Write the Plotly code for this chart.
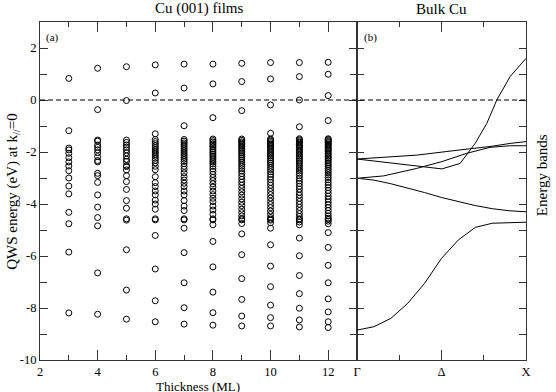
import plotly.graph_objects as go

# QWS energies (eV) at k//=0 for each film thickness (ML)
thickness = [3, 4, 5, 6, 7, 8, 9, 10, 11, 12]

qws_3 = [0.83, -1.18, -1.85, -1.92, -2.05, -2.22, -2.38, -2.54, -2.72, -3.00, -3.31, -3.61,
         -4.32, -4.76, -5.85, -8.19]
qws_4 = [1.22, -0.37, -1.54, -1.58, -1.73, -1.82, -1.92, -2.03, -2.18, -2.33, -2.38, -2.82,
         -2.91, -3.17, -3.65, -4.12, -4.52, -4.84, -6.65, -8.24]
qws_5 = [1.28, -0.02, -1.54, -1.63, -1.73, -1.82, -1.92, -2.03, -2.15, -2.28, -2.37, -2.52,
         -2.56, -2.69, -2.91, -3.14, -3.44, -3.87, -4.16, -4.57, -4.62, -5.76, -7.31, -8.43]
qws_6 = [1.35, 0.27, -1.30, -1.52, -1.60, -1.68, -1.76, -1.84, -1.92, -2.00, -2.08, -2.16,
         -2.24, -2.32, -2.42, -2.55, -2.68, -2.95, -3.18, -3.33, -3.50, -3.65, -3.85, -4.00,
         -4.20, -4.57, -4.61, -5.21, -6.50, -7.72, -8.53]
qws_7 = [1.38, 0.46, -0.99, -1.52, -1.58, -1.65, -1.72, -1.80, -1.88, -1.96, -2.04, -2.12,
         -2.20, -2.28, -2.36, -2.45, -2.55, -2.66, -2.80, -2.95, -3.08, -3.20, -3.33, -3.50,
         -3.65, -3.87, -4.08, -4.25, -4.57, -4.61, -4.93, -5.87, -7.03, -7.99, -8.62]
qws_8 = [1.38, 0.62, -0.68, -1.50, -1.56, -1.62, -1.68, -1.74, -1.80, -1.87, -1.94, -2.01,
         -2.08, -2.15, -2.22, -2.30, -2.38, -2.46, -2.55, -2.65, -2.75, -2.86, -2.98, -3.10,
         -3.22, -3.35, -3.50, -3.64, -3.78, -3.91, -4.08, -4.23, -4.40, -4.57, -4.61, -4.80,
         -5.44, -6.42, -7.39, -8.18, -8.66]
qws_9 = [1.41, 0.71, -0.41, -1.50, -1.55, -1.61, -1.66, -1.72, -1.78, -1.84, -1.90, -1.97,
         -2.03, -2.10, -2.17, -2.24, -2.31, -2.39, -2.47, -2.55, -2.64, -2.73, -2.83, -2.94,
         -3.05, -3.16, -3.28, -3.40, -3.53, -3.66, -3.80, -3.93, -4.06, -4.20, -4.33, -4.46,
         -4.57, -4.61, -4.75, -5.15, -5.95, -6.87, -7.67, -8.31, -8.69]
qws_10 = [1.44, 0.81, -0.19, -1.28, -1.50, -1.54, -1.59, -1.64, -1.69, -1.74, -1.79, -1.85,
          -1.91, -1.97, -2.03, -2.09, -2.15, -2.22, -2.29, -2.36, -2.43, -2.51, -2.59, -2.67,
          -2.76, -2.86, -2.96, -3.06, -3.17, -3.28, -3.40, -3.52, -3.64, -3.77, -3.90, -4.02,
          -4.14, -4.27, -4.40, -4.52, -4.58, -4.62, -4.72, -4.93, -5.57, -6.39, -7.18, -7.89,
          -8.37, -8.69]
qws_11 = [1.44, 0.90, 0.00, -1.03, -1.49, -1.53, -1.57, -1.62, -1.66, -1.71, -1.76, -1.81,
          -1.86, -1.92, -1.97, -2.03, -2.09, -2.15, -2.21, -2.28, -2.35, -2.42, -2.49, -2.57,
          -2.65, -2.73, -2.82, -2.91, -3.01, -3.11, -3.21, -3.32, -3.43, -3.55, -3.66, -3.78,
          -3.90, -4.01, -4.13, -4.25, -4.37, -4.48, -4.57, -4.61, -4.69, -4.80, -5.31, -5.99,
          -6.75, -7.45, -8.01, -8.46, -8.73]
qws_12 = [1.45, 0.99, 0.17, -0.79, -1.49, -1.52, -1.56, -1.60, -1.64, -1.69, -1.73, -1.78,
          -1.83, -1.88, -1.93, -1.98, -2.04, -2.10, -2.16, -2.22, -2.28, -2.35, -2.42, -2.49,
          -2.56, -2.64, -2.72, -2.80, -2.89, -2.98, -3.07, -3.17, -3.27, -3.37, -3.48, -3.59,
          -3.70, -3.81, -3.92, -4.03, -4.14, -4.25, -4.36, -4.46, -4.55, -4.60, -4.66, -4.76,
          -5.10, -5.67, -6.36, -7.03, -7.65, -8.15, -8.53, -8.75]

qws = [qws_3, qws_4, qws_5, qws_6, qws_7, qws_8, qws_9, qws_10, qws_11, qws_12]

# Bulk Cu bands along Gamma-X (k from 0 at Gamma to 1 at X)
band1_k = [0, 0.1, 0.2, 0.3, 0.4, 0.5, 0.6, 0.7, 0.8, 0.9, 1.0]
band1_e = [-8.85, -8.72, -8.40, -7.82, -7.05, -6.09, -5.38, -4.90, -4.74, -4.71, -4.70]
band2_k = [0, 0.1, 0.2, 0.3, 0.4, 0.5, 0.6, 0.7, 0.8, 0.9, 1.0]
band2_e = [-3.01, -3.08, -3.22, -3.38, -3.56, -3.75, -3.90, -4.06, -4.18, -4.26, -4.30]
band3_k = [0, 0.157, 0.354, 0.502, 0.65, 0.787, 0.906, 1.0]
band3_e = [-3.01, -2.92, -2.63, -2.37, -2.05, -1.82, -1.76, -1.76]
band4_k = [0, 0.354, 0.61, 0.787, 0.906, 1.0]
band4_e = [-2.27, -2.12, -1.92, -1.79, -1.67, -1.60]
band5_k = [0, 0.256, 0.502, 0.61, 0.699, 0.768, 0.827, 0.906, 1.0]
band5_e = [-2.27, -2.47, -2.65, -2.44, -1.67, -0.90, 0.0, 0.9, 1.6]

bands = [(band1_k, band1_e), (band2_k, band2_e), (band3_k, band3_e),
         (band4_k, band4_e), (band5_k, band5_e)]

serif = "Liberation Serif"
line_col = "#333333"

fig = go.Figure()

film_x = []
film_y = []
for n, vals in zip(thickness, qws):
    film_x += [n] * len(vals)
    film_y += vals

fig.add_trace(go.Scatter(
    x=film_x, y=film_y, mode="markers", xaxis="x", yaxis="y",
    marker=dict(symbol="circle-open", size=6, color="black", line=dict(width=1)),
    showlegend=False))

for k, e in bands:
    fig.add_trace(go.Scatter(
        x=k, y=e, mode="lines", xaxis="x2", yaxis="y2",
        line=dict(color="black", width=1), showlegend=False))

# E = 0 reference across both panels
fig.add_shape(type="line", xref="paper", yref="y", x0=0, x1=1, y0=0, y1=0,
              line=dict(color="black", width=1, dash="5px,3px"))

split = 0.6523
ytick_vals = [-10, -8, -6, -4, -2, 0, 2]
ytick_text = [str(v) for v in ytick_vals]

axis_common = dict(showline=True, linecolor=line_col, linewidth=1, ticks="inside",
                   tickcolor=line_col, showgrid=False, zeroline=False,
                   tickfont=dict(family=serif, size=12.5, color="black"))

fig.update_layout(
    width=556, height=392,
    margin=dict(l=40, r=30, t=22, b=32),
    paper_bgcolor="white", plot_bgcolor="white",
    font=dict(family=serif, color="black"),
    xaxis=dict(domain=[0, split], range=[2, 13], tickmode="array",
               tickvals=[2, 4, 6, 8, 10, 12], ticklen=10, mirror="allticks",
               minor=dict(dtick=1, ticklen=5, tickcolor=line_col, ticks="inside"),
               **axis_common),
    yaxis=dict(range=[-10, 3], tickmode="array", tickvals=ytick_vals, ticktext=ytick_text,
               ticklen=8, mirror="allticks",
               minor=dict(dtick=1, ticklen=7, tickcolor=line_col, ticks="inside"),
               **axis_common),
    xaxis2=dict(domain=[split, 1], range=[0, 1], anchor="y2", tickmode="array",
                tickvals=[0, 0.5, 1], ticktext=["Γ", "Δ", "X"], ticklen=10,
                mirror="allticks",
                minor=dict(dtick=0.25, ticklen=5, tickcolor=line_col, ticks="inside"),
                **axis_common),
    yaxis2=dict(range=[-10, 3], anchor="x2", dtick=1, ticklen=7, mirror="allticks",
                showticklabels=False, **axis_common),
)

fig.add_annotation(text="Cu (001) films", xref="paper", yref="paper", x=split / 2, y=1,
                   xanchor="center", yanchor="bottom", yshift=3, showarrow=False,
                   font=dict(family=serif, size=15))
fig.add_annotation(text="Bulk Cu", xref="paper", yref="paper", x=(split + 1) / 2, y=1,
                   xanchor="center", yanchor="bottom", yshift=3, showarrow=False,
                   font=dict(family=serif, size=15))
fig.add_annotation(text="(a)", xref="paper", yref="paper", x=0.008, y=0.978,
                   xanchor="left", yanchor="top", showarrow=False,
                   font=dict(family=serif, size=11))
fig.add_annotation(text="(b)", xref="paper", yref="paper", x=split + 0.01, y=0.978,
                   xanchor="left", yanchor="top", showarrow=False,
                   font=dict(family=serif, size=11))
fig.add_annotation(text="QWS energy (eV) at k<sub>//</sub>=0", xref="paper", yref="paper",
                   x=-0.056, y=0.5, xanchor="center", yanchor="middle", textangle=-90,
                   showarrow=False, font=dict(family=serif, size=15))
fig.add_annotation(text="Energy bands", xref="paper", yref="paper", x=1.033, y=0.547,
                   xanchor="center", yanchor="middle", textangle=-90, showarrow=False,
                   font=dict(family=serif, size=15))
fig.add_annotation(text="Thickness (ML)", xref="paper", yref="paper", x=split * 0.497,
                   y=-0.079, xanchor="center", yanchor="middle", showarrow=False,
                   font=dict(family=serif, size=13))

# the page body has an 8px default margin; drop it so the figure fills the window
fig.write_html("out.html", config={"displayModeBar": False},
               post_script="document.body.style.margin = '0';")
